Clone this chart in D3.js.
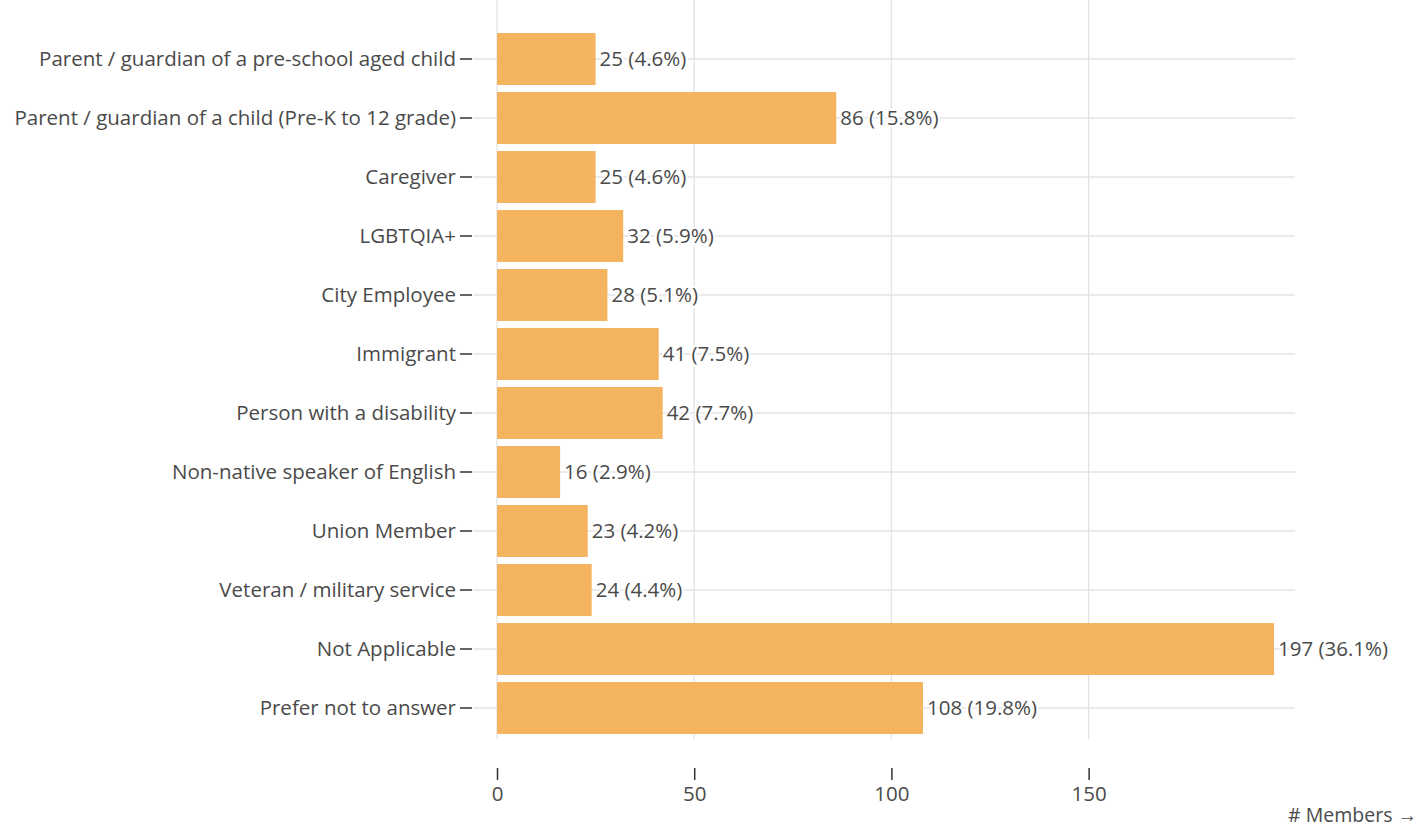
<!DOCTYPE html>
<html>
<head>
<meta charset="utf-8">
<script src="https://cdn.jsdelivr.net/npm/d3@7.9.0/dist/d3.min.js"></script>
<style>
  body { margin: 0; background: #fff; }
  svg { display: block; font-family: "Open Sans", sans-serif; }
</style>
</head>
<body>
<svg id="chart"></svg>
<script>
// Categories and counts (top to bottom).
const categories = [
  'Parent / guardian of a pre-school aged child',
  'Parent / guardian of a child (Pre-K to 12 grade)',
  'Caregiver',
  'LGBTQIA+',
  'City Employee',
  'Immigrant',
  'Person with a disability',
  'Non-native speaker of English',
  'Union Member',
  'Veteran / military service',
  'Not Applicable',
  'Prefer not to answer',
];
const counts = [25, 86, 25, 32, 28, 41, 42, 16, 23, 24, 197, 108];
const percents = [4.6, 15.8, 4.6, 5.9, 5.1, 7.5, 7.7, 2.9, 4.2, 4.4, 36.1, 19.8];
const xTicks = [0, 50, 100, 150];

const width = 1420;
const height = 830;
const fontSize = 20.5;
const textColor = '#4a4a4a';
const gridColor = '#e3e3e3';
const barColor = '#f4b35f';

const svg = d3.select('#chart').attr('width', width).attr('height', height);

// x: members. 0 sits at x=497, bars for 197 end near x=1274.
const x = d3.scaleLinear().domain([0, 197]).range([497, 1274]);
const gridRight = 1295;

// y: one band per category
const y = d3
  .scaleBand()
  .domain(categories)
  .range([29.5, 737.5])
  .paddingInner(0.12)
  .paddingOuter(0.06);

// vertical grid lines
svg
  .append('g')
  .selectAll('line')
  .data(xTicks)
  .join('line')
  .attr('x1', (d) => x(d))
  .attr('x2', (d) => x(d))
  .attr('y1', 0)
  .attr('y2', 739)
  .attr('stroke', gridColor)
  .attr('stroke-width', 1.3);

// horizontal grid lines at each band centre
svg
  .append('g')
  .selectAll('line')
  .data(categories)
  .join('line')
  .attr('x1', 473)
  .attr('x2', gridRight)
  .attr('y1', (d) => y(d) + y.bandwidth() / 2)
  .attr('y2', (d) => y(d) + y.bandwidth() / 2)
  .attr('stroke', gridColor)
  .attr('stroke-width', 1.3);

// bars
svg
  .append('g')
  .selectAll('rect')
  .data(counts)
  .join('rect')
  .attr('x', x(0))
  .attr('y', (d, i) => y(categories[i]))
  .attr('width', (d) => x(d) - x(0))
  .attr('height', y.bandwidth())
  .attr('fill', barColor);

// value labels with a white halo so the grid line breaks behind them
svg
  .append('g')
  .selectAll('text')
  .data(counts)
  .join('text')
  .attr('x', (d) => x(d) + 4)
  .attr('y', (d, i) => y(categories[i]) + y.bandwidth() / 2)
  .attr('dy', '0.35em')
  .attr('font-size', fontSize)
  .attr('fill', textColor)
  .attr('stroke', '#fff')
  .attr('stroke-width', 4)
  .attr('paint-order', 'stroke')
  .text((d, i) => `${d} (${percents[i]}%)`);

// y axis: dark tick dash + label
const yAxis = d3.axisLeft(y).tickSize(12).tickPadding(4);
const gy = svg.append('g').attr('transform', 'translate(472,0)').call(yAxis);
gy.select('.domain').remove();
gy.selectAll('.tick line').attr('stroke', '#333').attr('stroke-width', 1.5);
gy.selectAll('.tick text')
  .attr('font-size', fontSize)
  .attr('font-family', '"Open Sans", sans-serif')
  .attr('fill', textColor);

// x axis at the bottom
const xAxis = d3.axisBottom(x).tickValues(xTicks).tickSize(12).tickPadding(6);
const gx = svg.append('g').attr('transform', 'translate(0,768)').call(xAxis);
gx.select('.domain').remove();
gx.selectAll('.tick line').attr('stroke', '#333').attr('stroke-width', 1.5);
gx.selectAll('.tick text')
  .attr('font-size', fontSize)
  .attr('font-family', '"Open Sans", sans-serif')
  .attr('fill', textColor);

// axis label
svg
  .append('text')
  .attr('x', 1417)
  .attr('y', 822)
  .attr('text-anchor', 'end')
  .attr('font-size', 19.5)
  .attr('fill', textColor)
  .text('# Members →');
</script>
</body>
</html>
